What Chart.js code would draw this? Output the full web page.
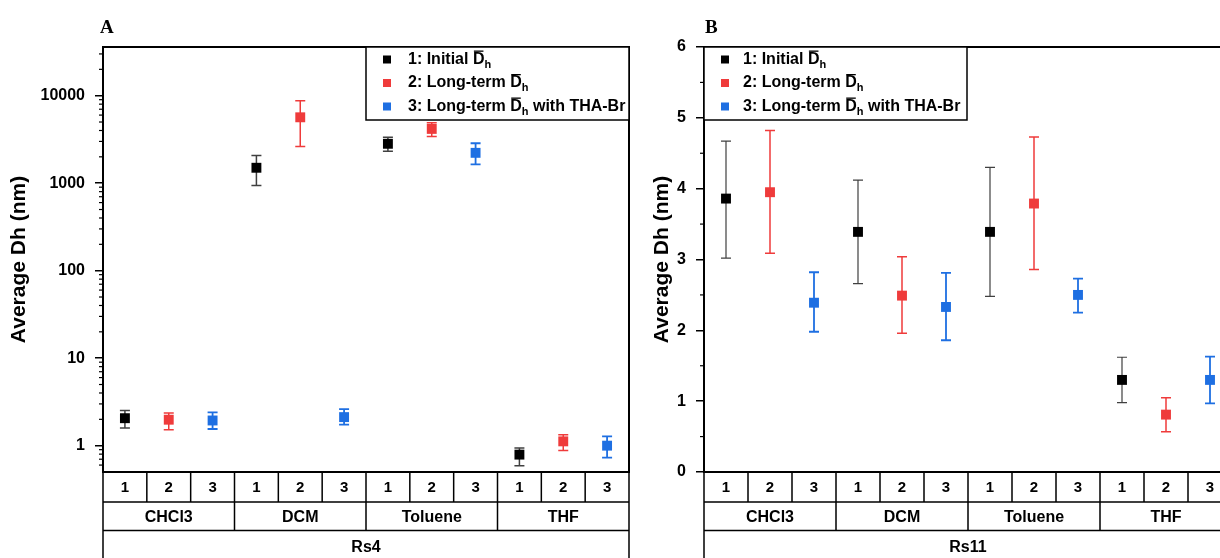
<!DOCTYPE html>
<html>
<head>
<meta charset="utf-8">
<script src="https://cdn.jsdelivr.net/npm/chart.js@4.4.1/dist/chart.umd.min.js"></script>
<style>
    html, body { margin: 0; padding: 0; background: #fff; width: 1220px; height: 558px; overflow: hidden; }
    #wrapA { position: absolute; left: 0; top: 0; width: 640px; height: 558px; }
    #wrapB { position: absolute; left: 640px; top: 0; width: 620px; height: 558px; }
</style>
</head>
<body>
<div id="wrapA"><canvas id="chartA" width="640" height="558"></canvas></div>
<div id="wrapB"><canvas id="chartB" width="620" height="558"></canvas></div>
<script>
// categories
const solvents = ['CHCl3', 'DCM', 'Toluene', 'THF'];
const sampleNums = ['1', '2', '3'];
const seriesNames = ['1: Initial D\u0304h', '2: Long-term D\u0304h', '3: Long-term D\u0304h with THA-Br'];
const seriesColors = ['#000000', '#ef3b3b', '#1e6fe2'];
const errColors = ['#404040', '#ef3b3b', '#1e6fe2'];

// Rs4 (panel A, log axis) - one value per solvent
const rs4Initial = [2.06, 1500, 2820, 0.79];
const rs4InitialLow = [1.59, 943, 2318, 0.59];
const rs4InitialHigh = [2.52, 2070, 3350, 0.94];
const rs4Long = [1.98, 5660, 4170, 1.12];
const rs4LongLow = [1.52, 2620, 3410, 0.88];
const rs4LongHigh = [2.36, 8770, 4900, 1.33];
const rs4Tha = [1.94, 2.12, 2222, 1.00];
const rs4ThaLow = [1.55, 1.74, 1636, 0.73];
const rs4ThaHigh = [2.40, 2.62, 2860, 1.28];

// Rs11 (panel B, linear axis)
const rs11Initial = [3.86, 3.39, 3.39, 1.30];
const rs11InitialLow = [3.02, 2.66, 2.48, 0.98];
const rs11InitialHigh = [4.67, 4.12, 4.30, 1.62];
const rs11Long = [3.95, 2.49, 3.79, 0.81];
const rs11LongLow = [3.09, 1.96, 2.86, 0.57];
const rs11LongHigh = [4.82, 3.04, 4.73, 1.05];
const rs11Tha = [2.39, 2.33, 2.50, 1.30];
const rs11ThaLow = [1.98, 1.86, 2.25, 0.97];
const rs11ThaHigh = [2.82, 2.81, 2.73, 1.63];

// tick labels
const rs4Ticks = [1, 10, 100, 1000, 10000];
const rs11Ticks = [0, 1, 2, 3, 4, 5, 6];

// minor tick positions
const rs4Minor = [];
[0.1, 1, 10, 100, 1000, 10000].forEach(d => {
    for (let m = 2; m <= 9; m++) {
        const v = d * m;
        if (v > 0.5 && v < 36000) rs4Minor.push(v);
    }
});
const rs11Minor = [0.5, 1.5, 2.5, 3.5, 4.5, 5.5];

function makeDatasets(vals, lows, highs) {
    return vals.map((series, s) => ({
        label: seriesNames[s],
        data: solvents.map((_, j) => ({ x: j * 3 + s + 1, y: series[j] })),
        errLow: lows[s],
        errHigh: highs[s],
        pointStyle: 'rect',
        pointRadius: 7,
        backgroundColor: seriesColors[s],
        borderWidth: 0,
        clip: false
    }));
}

function drawLegendRow(ctx, x, y, pre, post) {
    ctx.font = 'bold 16px Arial';
    ctx.fillText(pre, x, y);
    x += ctx.measureText(pre).width;
    ctx.fillText('D', x, y);
    const dw = ctx.measureText('D').width;
    ctx.fillRect(x + 1, y - 9, dw - 2, 1.3);
    x += dw;
    ctx.font = 'bold 11px Arial';
    ctx.fillText('h', x, y + 5);
    x += ctx.measureText('h').width;
    ctx.font = 'bold 16px Arial';
    if (post) ctx.fillText(post, x, y);
}

function panelPlugin(cfg) {
    return {
        id: 'panel' + cfg.letter,
        beforeDatasetsDraw(chart) {
            const ctx = chart.ctx;
            const xs = chart.scales.x, ys = chart.scales.y;
            ctx.save();
            chart.data.datasets.forEach((ds, s) => {
                ctx.strokeStyle = errColors[s];
                ctx.lineWidth = cfg.errWidth[s];
                ds.data.forEach((p, j) => {
                    const px = xs.getPixelForValue(p.x);
                    const yl = ys.getPixelForValue(ds.errLow[j]);
                    const yh = ys.getPixelForValue(ds.errHigh[j]);
                    ctx.beginPath();
                    ctx.moveTo(px, yl); ctx.lineTo(px, yh);
                    ctx.moveTo(px - cfg.cap, yl); ctx.lineTo(px + cfg.cap, yl);
                    ctx.moveTo(px - cfg.cap, yh); ctx.lineTo(px + cfg.cap, yh);
                    ctx.stroke();
                });
            });
            ctx.restore();
        },
        afterDraw(chart) {
            const ctx = chart.ctx;
            const a = chart.chartArea;
            const xs = chart.scales.x, ys = chart.scales.y;
            ctx.save();

            // minor ticks
            ctx.strokeStyle = '#000';
            ctx.lineWidth = 1.2;
            cfg.minor.forEach(v => {
                const y = ys.getPixelForValue(v);
                ctx.beginPath();
                ctx.moveTo(a.left - 4, y); ctx.lineTo(a.left, y);
                ctx.stroke();
            });

            // frame
            ctx.lineWidth = 2;
            ctx.strokeRect(a.left, a.top, a.right - a.left, a.bottom - a.top);

            // category table under the plot
            const y0 = a.bottom, y1 = y0 + 30, y2 = y1 + 28.5, y3 = chart.height + 2;
            const n = solvents.length * sampleNums.length;
            const edge = k => xs.getPixelForValue(k + 0.5);
            ctx.lineWidth = 1.5;
            ctx.beginPath();
            ctx.moveTo(a.left, y1); ctx.lineTo(a.right, y1);
            ctx.moveTo(a.left, y2); ctx.lineTo(a.right, y2);
            for (let k = 0; k <= n; k++) {
                const x = edge(k);
                ctx.moveTo(x, y0); ctx.lineTo(x, y1);
                if (k % 3 === 0) { ctx.moveTo(x, y1); ctx.lineTo(x, y2); }
                if (k === 0 || k === n) { ctx.moveTo(x, y2); ctx.lineTo(x, y3); }
            }
            ctx.stroke();

            ctx.fillStyle = '#000';
            ctx.textAlign = 'center';
            ctx.textBaseline = 'middle';
            ctx.font = 'bold 15px Arial';
            for (let k = 0; k < n; k++) {
                ctx.fillText(sampleNums[k % 3], xs.getPixelForValue(k + 1), (y0 + y1) / 2 + 1);
            }
            ctx.font = 'bold 16px Arial';
            solvents.forEach((name, j) => {
                ctx.fillText(name, xs.getPixelForValue(j * 3 + 2), (y1 + y2) / 2 + 1);
            });
            ctx.fillText(cfg.sample, (edge(0) + edge(n)) / 2, y2 + 17);

            // legend
            const L = cfg.legend;
            ctx.fillStyle = '#fff';
            ctx.fillRect(L.x, a.top, L.w, L.h);
            ctx.strokeStyle = '#000';
            ctx.lineWidth = 1.5;
            ctx.strokeRect(L.x, a.top, L.w, L.h);
            ctx.textAlign = 'left';
            const parts = [['1: Initial ', ''], ['2: Long-term ', ''], ['3: Long-term ', ' with THA-Br']];
            parts.forEach((pp, i) => {
                const y = a.top + 12.5 + i * 23.5;
                ctx.fillStyle = seriesColors[i];
                ctx.fillRect(L.x + L.markX - 4, y - 4, 8, 8);
                ctx.fillStyle = '#000';
                drawLegendRow(ctx, L.x + L.textX, y, pp[0], pp[1]);
            });

            // panel letter
            ctx.font = 'bold 19px "Liberation Serif", "Times New Roman", serif';
            ctx.textBaseline = 'alphabetic';
            ctx.fillText(cfg.letter, cfg.letterX, 33);
            ctx.restore();
        }
    };
}

function makeChart(id, cfg) {
    return new Chart(document.getElementById(id), {
        type: 'scatter',
        data: { datasets: makeDatasets(cfg.vals, cfg.lows, cfg.highs) },
        options: {
            responsive: false,
            animation: false,
            events: [],
            layout: { padding: { left: 0, right: cfg.padRight, top: 47, bottom: 86 } },
            plugins: { legend: { display: false }, tooltip: { enabled: false } },
            scales: {
                x: { type: 'linear', display: false, min: 0.5, max: 12.5 },
                y: {
                    type: cfg.yType,
                    min: cfg.yMin,
                    max: cfg.yMax,
                    afterBuildTicks: s => { s.ticks = cfg.ticks.map(v => ({ value: v })); },
                    afterFit: s => { s.width = cfg.axisWidth; },
                    ticks: {
                        color: '#000',
                        padding: 10,
                        font: { family: 'Arial', size: 16, weight: 'bold' },
                        callback: v => String(v)
                    },
                    grid: { display: true, drawOnChartArea: false, drawTicks: true, tickLength: 8, color: '#000', lineWidth: 1.5 },
                    border: { display: true, color: '#000', width: 2 },
                    title: {
                        display: true,
                        text: 'Average Dh (nm)',
                        color: '#000',
                        font: { family: 'Arial', size: 21, weight: 'bold' },
                        padding: { top: cfg.titlePad, bottom: 0 }
                    }
                }
            }
        },
        plugins: [panelPlugin(cfg)]
    });
}

makeChart('chartA', {
    letter: 'A', letterX: 100, sample: 'Rs4',
    vals: [rs4Initial, rs4Long, rs4Tha],
    lows: [rs4InitialLow, rs4LongLow, rs4ThaLow],
    highs: [rs4InitialHigh, rs4LongHigh, rs4ThaHigh],
    yType: 'logarithmic', yMin: 0.5, yMax: 36000,
    ticks: rs4Ticks, minor: rs4Minor,
    axisWidth: 103, padRight: 11, titlePad: 7,
    errWidth: [1.5, 1.5, 1.8], cap: 5,
    legend: { x: 366, w: 263, h: 73, markX: 21, textX: 42 }
});

makeChart('chartB', {
    letter: 'B', letterX: 65, sample: 'Rs11',
    vals: [rs11Initial, rs11Long, rs11Tha],
    lows: [rs11InitialLow, rs11LongLow, rs11ThaLow],
    highs: [rs11InitialHigh, rs11LongHigh, rs11ThaHigh],
    yType: 'linear', yMin: 0, yMax: 6,
    ticks: rs11Ticks, minor: rs11Minor,
    axisWidth: 64, padRight: 28, titlePad: 10,
    errWidth: [1.2, 1.5, 1.8], cap: 5,
    legend: { x: 64, w: 263, h: 73, markX: 21, textX: 39 }
});
</script>
</body>
</html>
